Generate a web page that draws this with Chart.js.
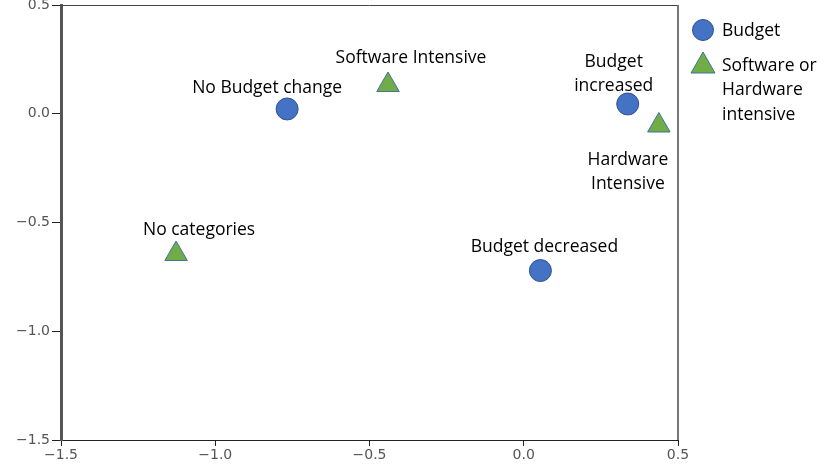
<!DOCTYPE html>
<html>
<head>
<meta charset="utf-8">
<script src="https://cdn.jsdelivr.net/npm/chart.js@4.4.1/dist/chart.umd.min.js"></script>
<style>
  html, body { margin: 0; padding: 0; background: #fff; }
  #wrap { width: 830px; height: 467px; position: relative; }
</style>
</head>
<body>
<div id="wrap"><canvas id="chart"></canvas></div>
<script>
// Category points (x = dimension 1, y = dimension 2)
const budgetLabels = [['No Budget change'], ['Budget', 'increased'], ['Budget decreased']];
const budgetX = [-0.767, 0.337, 0.054];
const budgetY = [0.022, 0.045, -0.721];

const intensiveLabels = [['Software Intensive'], ['Hardware', 'Intensive'], ['No categories']];
const intensiveX = [-0.44, 0.438, -1.127];
const intensiveY = [0.132, -0.054, -0.645];

const legendNames = [['Budget'], ['Software or', 'Hardware', 'intensive']];
const axisTicks = [-1.5, -1.0, -0.5, 0.0, 0.5];

// label offsets in px from the point (style only)
const budgetOffsets = [[-20, -21], [-14, -42], [4, -24]];
const intensiveOffsets = [[23, -27], [-31, 35], [23, -24]];

const LABEL_FONT = "17.5px 'Open Sans', sans-serif";
const TICK_FONT = { family: "'DejaVu Sans', sans-serif", size: 14 };

function toPoints(xs, ys) {
    return xs.map((x, i) => ({ x: x, y: ys[i] }));
}

function fmt(v) {
    return v.toFixed(1).replace('-', '\u2212');
}

const pointLabels = {
    id: 'pointLabels',
    afterDatasetsDraw(chart) {
        const ctx = chart.ctx;
        const sets = [
            { labels: budgetLabels, offsets: budgetOffsets },
            { labels: intensiveLabels, offsets: intensiveOffsets },
        ];
        ctx.save();
        ctx.font = LABEL_FONT;
        ctx.fillStyle = '#000';
        ctx.textAlign = 'center';
        ctx.textBaseline = 'middle';
        sets.forEach((s, di) => {
            const meta = chart.getDatasetMeta(di);
            meta.data.forEach((el, i) => {
                const [dx, dy] = s.offsets[i];
                s.labels[i].forEach((line, li) => {
                    ctx.fillText(line, el.x + dx, el.y + dy + li * 24);
                });
            });
        });
        ctx.restore();
    }
};

const frame = {
    id: 'frame',
    afterDraw(chart) {
        const { ctx, chartArea: a } = chart;
        ctx.save();
        // top line
        ctx.strokeStyle = '#444';
        ctx.lineWidth = 1;
        ctx.beginPath();
        ctx.moveTo(a.left, a.top + 0.5);
        ctx.lineTo(a.right, a.top + 0.5);
        ctx.stroke();
        // right line
        ctx.strokeStyle = '#777';
        ctx.lineWidth = 2;
        ctx.beginPath();
        ctx.moveTo(a.right, a.top);
        ctx.lineTo(a.right, a.bottom);
        ctx.stroke();

        // legend
        const lx = 703;
        ctx.font = LABEL_FONT;
        ctx.textAlign = 'left';
        ctx.textBaseline = 'middle';
        ctx.beginPath();
        ctx.arc(lx, 30, 10.5, 0, Math.PI * 2);
        ctx.fillStyle = '#4472C4';
        ctx.fill();
        ctx.strokeStyle = '#2F528F';
        ctx.lineWidth = 1;
        ctx.stroke();
        ctx.beginPath();
        ctx.moveTo(lx, 52);
        ctx.lineTo(lx + 12, 73);
        ctx.lineTo(lx - 12, 73);
        ctx.closePath();
        ctx.fillStyle = '#70AD47';
        ctx.fill();
        ctx.strokeStyle = '#41719C';
        ctx.stroke();
        ctx.fillStyle = '#000';
        legendNames[0].forEach((t, i) => ctx.fillText(t, 722, 31 + i * 24));
        legendNames[1].forEach((t, i) => ctx.fillText(t, 722, 66 + i * 24.5));
        ctx.restore();
    }
};

new Chart(document.getElementById('chart'), {
    type: 'scatter',
    data: {
        datasets: [
            {
                label: 'Budget',
                data: toPoints(budgetX, budgetY),
                pointStyle: 'circle',
                pointRadius: 11,
                backgroundColor: '#4472C4',
                borderColor: '#2F528F',
                borderWidth: 1,
            },
            {
                label: 'Software or Hardware intensive',
                data: toPoints(intensiveX, intensiveY),
                pointStyle: 'triangle',
                pointRadius: 13,
                backgroundColor: '#70AD47',
                borderColor: '#41719C',
                borderWidth: 1,
            }
        ]
    },
    options: {
        animation: false,
        responsive: true,
        maintainAspectRatio: false,
        layout: { autoPadding: false, padding: { left: 0, right: 152, top: 5, bottom: 0 } },
        plugins: {
            legend: { display: false },
            tooltip: { enabled: false },
        },
        scales: {
            x: {
                type: 'linear',
                min: -1.5,
                max: 0.5,
                afterBuildTicks: (s) => { s.ticks = axisTicks.map(v => ({ value: v })); },
                afterFit: (s) => { s.height = 27; s.paddingLeft = 0; s.paddingRight = 0; },
                grid: { drawOnChartArea: false, tickLength: 6, color: '#222', lineWidth: 1 },
                border: { color: '#222', width: 1 },
                ticks: { color: '#555', font: TICK_FONT, padding: 1, maxRotation: 0, callback: (v) => fmt(v) },
            },
            y: {
                type: 'linear',
                min: -1.5,
                max: 0.5,
                afterBuildTicks: (s) => { s.ticks = axisTicks.map(v => ({ value: v })); },
                afterFit: (s) => { s.width = 61; s.paddingTop = 0; s.paddingBottom = 0; },
                grid: { drawOnChartArea: false, tickLength: 9, color: '#222', lineWidth: 1 },
                border: { color: '#555', width: 3 },
                ticks: { color: '#555', font: TICK_FONT, padding: 2, callback: (v) => fmt(v) },
            }
        }
    },
    plugins: [pointLabels, frame]
});
</script>
</body>
</html>
